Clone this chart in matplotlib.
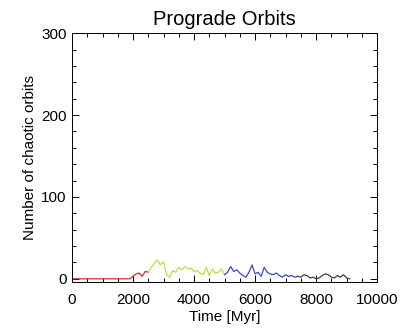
import matplotlib
matplotlib.use("Agg")
import matplotlib.pyplot as plt
from matplotlib.ticker import MultipleLocator

plt.rcParams['font.family'] = ['Liberation Sans', 'DejaVu Sans']

# Chaotic-orbit counts per time bin, split into consecutive epochs
t_red = [0, 100, 200, 300, 400, 500, 600, 700, 800, 900, 1000, 1100, 1200,
         1300, 1400, 1500, 1600, 1700, 1800, 1900, 2000, 2100, 2200, 2300,
         2400, 2500]
n_red = [0, 0, 0, 0, 0, 0, 0, 0, 0, 0, 0, 0, 0,
         0, 0, 0, 0, 0, 0, 0, 3, 6, 7, 3, 9, 8]

t_yellow = [2500, 2600, 2700, 2800, 2900, 3000, 3100, 3200, 3300, 3400,
            3500, 3600, 3700, 3800, 3900, 4000, 4100, 4200, 4300, 4400,
            4500, 4600, 4700, 4800, 4900, 5000]
n_yellow = [8, 14, 19, 23, 17, 21, 5, 2, 10, 8,
            14, 11, 15, 12, 13, 9, 10, 7, 5, 14,
            4, 12, 7, 8, 12, 5]

t_blue = [5000, 5100, 5200, 5300, 5400, 5500, 5600, 5700, 5800, 5900,
          6000, 6100, 6200, 6300, 6400, 6500, 6600, 6700, 6800, 6900,
          7000, 7100, 7200, 7300, 7400]
n_blue = [5, 8, 15, 9, 11, 7, 4, 2, 8, 17,
          6, 8, 3, 14, 8, 6, 5, 7, 4, 2,
          5, 3, 4, 2, 3]

t_green = [7400, 7500, 7600, 7700, 7800, 7900, 8000, 8100, 8200, 8300,
           8400, 8500, 8600, 8700, 8800, 8900, 9000, 9100]
n_green = [3, 2, 5, 4, 1, 2, 0, 1, 4, 6,
           5, 2, 1, 4, 2, 5, 1, 0]

fig = plt.figure(figsize=(4.03, 3.28), dpi=100)
ax = fig.add_axes([0.1787, 0.140, 0.757, 0.759])

lw = 0.9
ax.plot(t_red, n_red, color='#d42a2a', lw=lw)
ax.plot(t_yellow, n_yellow, color='#c9d83a', lw=lw)
ax.plot(t_blue, n_blue, color='#3a48cc', lw=lw)
ax.plot(t_green, n_green, color='#2f4a34', lw=lw)

ax.set_xlim(0, 10000)
ax.set_ylim(-4, 300)
ax.xaxis.set_major_locator(MultipleLocator(2000))
ax.xaxis.set_minor_locator(MultipleLocator(500))
ax.yaxis.set_major_locator(MultipleLocator(100))
ax.yaxis.set_minor_locator(MultipleLocator(20))
ax.tick_params(which='both', direction='in', top=True, right=True,
               labelsize=11, width=0.7)
ax.tick_params(axis='x', which='major', pad=8)
ax.tick_params(axis='y', which='major', pad=4)
ax.tick_params(which='major', length=5)
ax.tick_params(which='minor', length=3)
for s in ax.spines.values():
    s.set_linewidth(0.7)

ax.set_title('Prograde Orbits', fontsize=14.5, pad=6)
ax.set_xlabel('Time [Myr]', fontsize=11, labelpad=2)
ax.set_ylabel('Number of chaotic orbits', fontsize=11, labelpad=3)

fig.savefig('out.png', dpi=100)
